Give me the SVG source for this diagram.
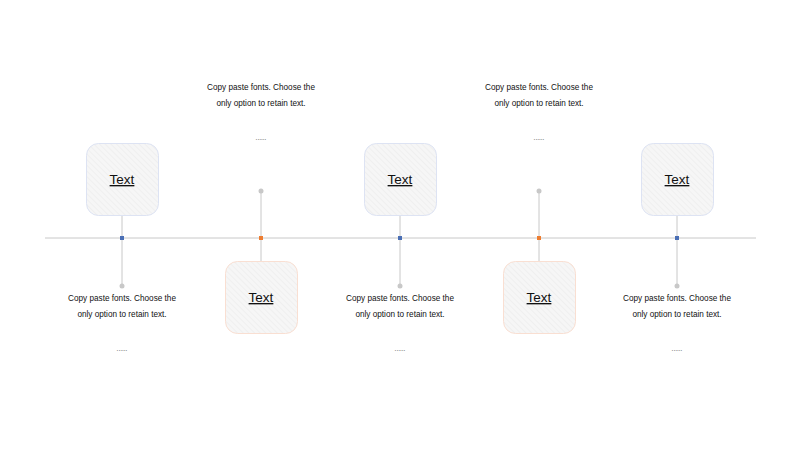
<svg xmlns="http://www.w3.org/2000/svg" width="800" height="450" viewBox="0 0 800 450">
<defs>
<pattern id="hatch" patternUnits="userSpaceOnUse" width="4" height="4" patternTransform="rotate(-45)">
<rect width="4" height="4" fill="#f6f6f6"/>
<line x1="0" y1="0" x2="0" y2="4" stroke="#e8e8e8" stroke-width="1"/>
</pattern>
</defs>
<style>
.box{fill:url(#hatch);stroke-width:1}
.bl{stroke:#dde3f3}
.or{stroke:#f9dfd2}
.lbl{font-family:"Liberation Sans",Arial,sans-serif;font-size:13.5px;fill:#111;text-anchor:middle;text-decoration:underline}
.desc{font-family:"Liberation Sans",Arial,sans-serif;font-size:8.2px;fill:#111;text-anchor:middle}
.dots{font-family:"Liberation Sans",Arial,sans-serif;font-size:6.5px;fill:#444;text-anchor:middle}
.ln{stroke:#c8c8c8;stroke-width:1;fill:none}
.dot{fill:#c8c8c8}
</style>
<rect width="800" height="450" fill="#ffffff"/>
<g id="connectors">
<line class="ln" x1="45" y1="238" x2="756" y2="238"/>
<line class="ln" x1="122" y1="215" x2="122" y2="286"/>
<circle class="dot" cx="122" cy="286" r="2.5"/>
<line class="ln" x1="400" y1="215" x2="400" y2="286"/>
<circle class="dot" cx="400" cy="286" r="2.5"/>
<line class="ln" x1="677" y1="215" x2="677" y2="286"/>
<circle class="dot" cx="677" cy="286" r="2.5"/>
<line class="ln" x1="261" y1="191" x2="261" y2="262"/>
<circle class="dot" cx="261" cy="191" r="2.5"/>
<line class="ln" x1="539" y1="191" x2="539" y2="262"/>
<circle class="dot" cx="539" cy="191" r="2.5"/>
<rect x="120" y="236" width="4" height="4" fill="#4a6fb5"/>
<rect x="398" y="236" width="4" height="4" fill="#4a6fb5"/>
<rect x="675" y="236" width="4" height="4" fill="#4a6fb5"/>
<rect x="259" y="236" width="4" height="4" fill="#ed7d31"/>
<rect x="537" y="236" width="4" height="4" fill="#ed7d31"/>
</g>
<g id="node1">
<rect class="box bl" x="86.5" y="143.5" width="72" height="72" rx="12"/>
<text class="lbl" x="122" y="184">Text</text>
<text class="desc" x="122" y="301">Copy paste fonts. Choose the</text>
<text class="desc" x="122" y="317">only option to retain text.</text>
<text class="dots" x="122" y="351">......</text>
</g>
<g id="node2">
<rect class="box or" x="225.5" y="261.5" width="72" height="72" rx="12"/>
<text class="lbl" x="261" y="302">Text</text>
<text class="desc" x="261" y="90">Copy paste fonts. Choose the</text>
<text class="desc" x="261" y="106">only option to retain text.</text>
<text class="dots" x="261" y="140">......</text>
</g>
<g id="node3">
<rect class="box bl" x="364.5" y="143.5" width="72" height="72" rx="12"/>
<text class="lbl" x="400" y="184">Text</text>
<text class="desc" x="400" y="301">Copy paste fonts. Choose the</text>
<text class="desc" x="400" y="317">only option to retain text.</text>
<text class="dots" x="400" y="351">......</text>
</g>
<g id="node4">
<rect class="box or" x="503.5" y="261.5" width="72" height="72" rx="12"/>
<text class="lbl" x="539" y="302">Text</text>
<text class="desc" x="539" y="90">Copy paste fonts. Choose the</text>
<text class="desc" x="539" y="106">only option to retain text.</text>
<text class="dots" x="539" y="140">......</text>
</g>
<g id="node5">
<rect class="box bl" x="641.5" y="143.5" width="72" height="72" rx="12"/>
<text class="lbl" x="677" y="184">Text</text>
<text class="desc" x="677" y="301">Copy paste fonts. Choose the</text>
<text class="desc" x="677" y="317">only option to retain text.</text>
<text class="dots" x="677" y="351">......</text>
</g>
</svg>
